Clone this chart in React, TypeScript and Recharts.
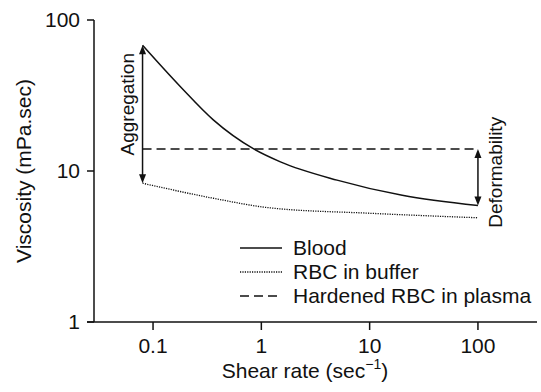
import { LineChart, Line, XAxis, YAxis, ReferenceLine, Legend } from 'recharts';

// shear rate (1/s) vs viscosity (mPa.sec)
const bloodRate = [0.08, 0.18, 0.36, 0.85, 1.5, 5, 20, 100];
const bloodVisc = [68, 36, 21.8, 14, 11.5, 8.7, 6.9, 5.9];
const bufferRate = [0.08, 0.36, 1.2, 10, 100];
const bufferVisc = [8.3, 6.6, 5.7, 5.25, 4.9];
const hardenedRate = [0.08, 100];
const hardenedVisc = [14, 14];

const xTicks = [0.1, 1, 10, 100];
const yTicks = [1, 10, 100];
const seriesNames = ['Blood', 'RBC in buffer', 'Hardened RBC in plasma'];

const toPoints = (xs: number[], ys: number[]) => xs.map((x, i) => ({ x, y: ys[i] }));
const bloodData = toPoints(bloodRate, bloodVisc);
const bufferData = toPoints(bufferRate, bufferVisc);
const hardenedData = toPoints(hardenedRate, hardenedVisc);

const FONT = '"Liberation Sans", Arial, sans-serif';
const INK = '#111';
const dashes = ['0', '1.2 1.2', '9 5'];

const LegendBox = () => (
  <div style={{ fontFamily: FONT, fontSize: 21, color: INK }}>
    {seriesNames.map((name, i) => (
      <div key={name} style={{ display: 'flex', alignItems: 'center', height: 24 }}>
        <svg width={53} height={24}>
          <line x1={0} y1={12} x2={42} y2={12} stroke={INK} strokeWidth={i === 1 ? 1.3 : 1.5} strokeDasharray={dashes[i]} />
        </svg>
        <span style={{ lineHeight: '24px', whiteSpace: 'nowrap' }}>{name}</span>
      </div>
    ))}
  </div>
);

// double-headed vertical arrow with a rotated caption
const arrow = (caption: string, side: number, shiftY: number) => (p: any) => {
  const { x1, y1, x2, y2 } = p;
  const top = Math.min(y1, y2);
  const bot = Math.max(y1, y2);
  const x = x1;
  const cy = (top + bot) / 2 + shiftY;
  const tx = x + side;
  return (
    <g>
      <line x1={x} y1={top + 6} x2={x2} y2={bot - 6} stroke={INK} strokeWidth={1.5} />
      <polygon points={`${x},${top} ${x - 3.5},${top + 9} ${x + 3.5},${top + 9}`} fill={INK} />
      <polygon points={`${x},${bot} ${x - 3.5},${bot - 9} ${x + 3.5},${bot - 9}`} fill={INK} />
      <text x={tx} y={cy} transform={`rotate(-90, ${tx}, ${cy})`} textAnchor="middle"
        fontFamily={FONT} fontSize={19} fill={INK}>{caption}</text>
    </g>
  );
};

export default function App() {
  return (
    <div style={{ position: 'absolute', left: 0, top: 0 }}>
      <LineChart width={541} height={392} margin={{ top: 20, right: 4, bottom: 0, left: 0 }}>
        <XAxis
          type="number"
          dataKey="x"
          scale="log"
          domain={[0.0285, 351]}
          ticks={xTicks}
          allowDataOverflow
          height={70}
          tickSize={8}
          tickMargin={8}
          stroke={INK}
          strokeWidth={1.5}
          tick={{ fill: INK, fontSize: 21, fontFamily: FONT }}
          label={{
            content: () => (
              <text x={305} y={378} textAnchor="middle" fontFamily={FONT} fontSize={21} fill={INK}>
                Shear rate (sec<tspan dy={-9} fontSize={14}>−1</tspan><tspan dy={9}>)</tspan>
              </text>
            ),
          }}
        />
        <YAxis
          type="number"
          dataKey="y"
          scale="log"
          domain={[1, 100]}
          ticks={yTicks}
          allowDataOverflow
          width={94}
          tickSize={7}
          tickMargin={7}
          stroke={INK}
          strokeWidth={1.5}
          tick={{ fill: INK, fontSize: 21, fontFamily: FONT }}
          label={{
            content: () => (
              <text x={31} y={171} transform="rotate(-90, 31, 171)" textAnchor="middle"
                fontFamily={FONT} fontSize={21} fill={INK}>
                Viscosity (mPa.sec)
              </text>
            ),
          }}
        />
        {/* x axis line runs a little past the y axis */}
        <ReferenceLine segment={[{ x: 0.0246, y: 1 }, { x: 0.0285, y: 1 }]} stroke={INK} strokeWidth={1.5} ifOverflow="visible" />
        <Line data={bloodData} dataKey="y" type="monotone" stroke={INK} strokeWidth={1.5} dot={false} isAnimationActive={false} />
        <Line data={bufferData} dataKey="y" type="monotone" stroke={INK} strokeWidth={1.3} strokeDasharray={dashes[1]} dot={false} isAnimationActive={false} />
        <Line data={hardenedData} dataKey="y" type="linear" stroke={INK} strokeWidth={1.5} strokeDasharray={dashes[2]} dot={false} isAnimationActive={false} />
        <ReferenceLine
          segment={[{ x: bloodRate[0], y: bloodVisc[0] }, { x: bufferRate[0], y: bufferVisc[0] }]}
          shape={arrow('Aggregation', -9, -10)}
          ifOverflow="visible"
        />
        <ReferenceLine
          segment={[{ x: 100, y: hardenedVisc[1] }, { x: 100, y: bloodVisc[bloodVisc.length - 1] }]}
          shape={arrow('Deformability', 24, -5)}
          ifOverflow="visible"
        />
        <Legend
          layout="vertical"
          align="center"
          verticalAlign="middle"
          content={<LegendBox />}
          wrapperStyle={{ left: 240, top: 236, width: 300, height: 72 }}
        />
      </LineChart>
    </div>
  );
}
